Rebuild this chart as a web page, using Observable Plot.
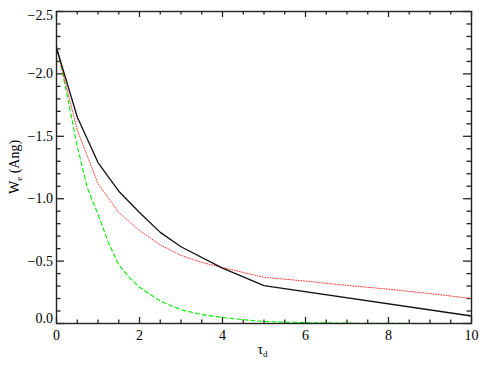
<!DOCTYPE html>
<html><head><meta charset="utf-8">
<script src="https://cdn.jsdelivr.net/npm/d3@7"></script>
<script src="https://cdn.jsdelivr.net/npm/@observablehq/plot@0.6"></script>
<style>body{margin:0;background:#fff}</style>
</head><body><div id="chart"></div>
<script>
// ---- data ----
const blackX = [0, 0.5, 1, 1.5, 2, 2.5, 3, 4, 5, 10];
const blackY = [-2.21, -1.655, -1.29, -1.06, -0.89, -0.73, -0.615, -0.444, -0.303, -0.06];
const redX = [0, 0.5, 1, 1.5, 2, 2.5, 3, 3.5, 4, 5, 6, 7, 8, 9, 10];
const redY = [-2.21, -1.55, -1.12, -0.89, -0.745, -0.63, -0.545, -0.49, -0.448, -0.37, -0.34, -0.305, -0.275, -0.24, -0.2];
const greenX = [0, 0.25, 0.5, 0.75, 1, 1.25, 1.5, 1.75, 2, 2.25, 2.5, 2.75, 3, 3.5, 4, 4.5, 5, 6, 7, 8, 9, 10];
const greenY = [-2.23, -1.84, -1.42, -1.08, -0.875, -0.65, -0.47, -0.37, -0.29, -0.235, -0.18, -0.145, -0.11, -0.072, -0.048, -0.03, -0.016, -0.007, -0.003, -0.001, 0, 0];

const xTickLabels = [0, 2, 4, 6, 8, 10];
const yTickLabels = [0, -0.5, -1, -1.5, -2, -2.5];
const xTitle = ["τ", "d"];
const yTitle = ["W", "e", " (Ang)"];

// ---- layout ----
const W = 485, H = 368, mL = 56, mR = 14, mT = 11, mB = 45;
const fw = W - mL - mR, fh = H - mT - mB;
const FONT = "Liberation Serif";
const ink = "#222";

const xMinor = d3.range(1, 20).map(i => i / 2).filter(v => v % 2 !== 0);
const yMinor = d3.range(1, 25).filter(i => i % 5 !== 0).map(i => -i / 10);
const fmt = d3.format(".1f");

const rows = (xs, ys) => xs.map((x, i) => ({x, y: ys[i]}));

const axisTextOpts = {tickSize: 0, tickFormat: fmt, label: null, fontSize: 14, fontFamily: FONT, fill: "#000"};

const plot = Plot.plot({
  width: W, height: H,
  marginLeft: mL, marginRight: mR, marginTop: mT, marginBottom: mB,
  style: "font-family: 'Liberation Serif', serif; font-size: 14px; background: #fff; color: #000;",
  x: {domain: [0, 10]},
  y: {domain: [0, -2.5]},
  marks: [
    Plot.axisX(xTickLabels, {tickSize: 0, tickPadding: 7, tickFormat: d => String(d), label: null, fontSize: 14, fontFamily: FONT, fill: "#000"}),
    Plot.axisY(yTickLabels.slice(1, 5), {...axisTextOpts, tickPadding: 3.5}),
    Plot.axisY([yTickLabels[0]], {...axisTextOpts, tickPadding: 3.5, dy: -5}),
    Plot.axisY([yTickLabels[5]], {...axisTextOpts, tickPadding: 3.5, dy: 4.5}),
    // inward ticks: bottom/top
    Plot.ruleX(xTickLabels, {x: d => d, insetTop: fh - 6, stroke: ink, strokeWidth: 1.3}),
    Plot.ruleX(xTickLabels, {x: d => d, insetBottom: fh - 6, stroke: ink, strokeWidth: 1.3}),
    Plot.ruleX(xMinor, {x: d => d, insetTop: fh - 3.5, stroke: ink, strokeWidth: 1.3}),
    Plot.ruleX(xMinor, {x: d => d, insetBottom: fh - 3.5, stroke: ink, strokeWidth: 1.3}),
    // inward ticks: left/right
    Plot.ruleY(yTickLabels, {y: d => d, insetRight: fw - 8, stroke: ink, strokeWidth: 1.3}),
    Plot.ruleY(yTickLabels, {y: d => d, insetLeft: fw - 8, stroke: ink, strokeWidth: 1.3}),
    Plot.ruleY(yMinor, {y: d => d, insetRight: fw - 4.5, stroke: ink, strokeWidth: 1.3}),
    Plot.ruleY(yMinor, {y: d => d, insetLeft: fw - 4.5, stroke: ink, strokeWidth: 1.3}),
    // series
    Plot.line(rows(greenX, greenY), {x: "x", y: "y", stroke: "#00ee00", strokeWidth: 1.1, strokeDasharray: "4 3"}),
    Plot.line(rows(redX, redY), {x: "x", y: "y", stroke: "#ff3b3b", strokeWidth: 1, strokeDasharray: "1 1.6"}),
    Plot.line(rows(blackX, blackY), {x: "x", y: "y", stroke: "#111", strokeWidth: 1.3}),
    Plot.frame({stroke: ink, strokeWidth: 1.4})
  ]
});

const svg = d3.select(plot);
// x title: τ_d
const xt = svg.append("text")
  .attr("x", mL + fw / 2 - 1).attr("y", 354)
  .attr("text-anchor", "middle").attr("font-family", FONT).attr("font-size", 14).attr("fill", "#000");
xt.append("tspan").text(xTitle[0]);
xt.append("tspan").attr("font-size", 9).attr("dy", 3).text(xTitle[1]);

// y title: W_e (Ang)
const yt = svg.append("text")
  .attr("transform", `translate(19,${mT + fh / 2}) rotate(-90)`)
  .attr("text-anchor", "middle").attr("font-family", FONT).attr("font-size", 14).attr("fill", "#000");
yt.append("tspan").text(yTitle[0]);
yt.append("tspan").attr("font-size", 9).attr("dy", 3).text(yTitle[1]);
yt.append("tspan").attr("dy", -3).text(yTitle[2]);

document.getElementById("chart").appendChild(plot);
</script>
</body></html>
